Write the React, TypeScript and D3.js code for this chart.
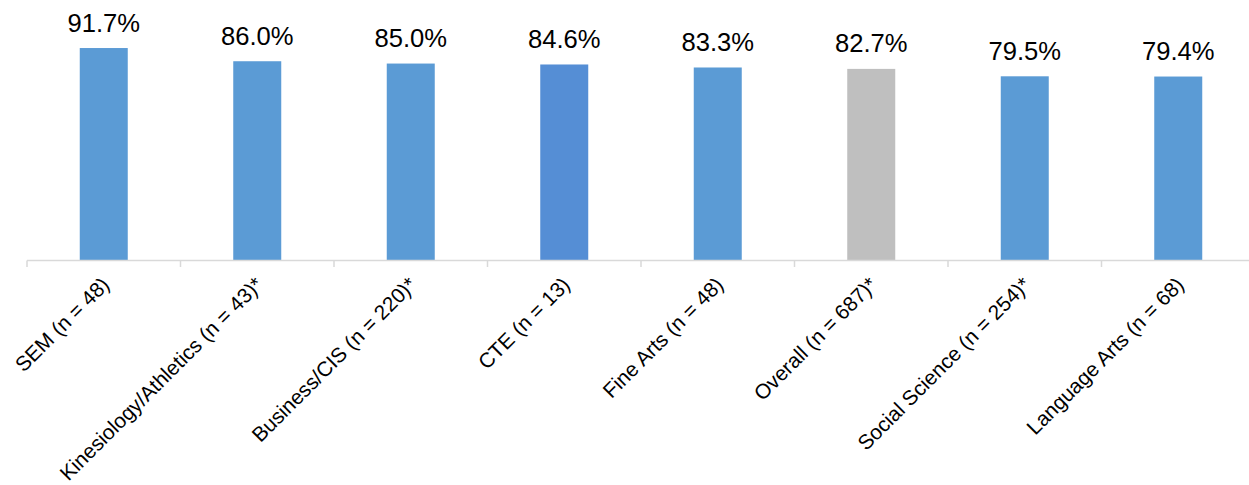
import React from "react";
import * as d3 from "d3";

const categories = [
  "SEM (n = 48)",
  "Kinesiology/Athletics (n = 43)*",
  "Business/CIS (n = 220)*",
  "CTE (n = 13)",
  "Fine Arts (n = 48)",
  "Overall (n = 687)*",
  "Social Science (n = 254)*",
  "Language Arts (n = 68)",
];
const values = [91.7, 86.0, 85.0, 84.6, 83.3, 82.7, 79.5, 79.4];
const barColors = ["#5B9BD5", "#5B9BD5", "#5B9BD5", "#558ED5", "#5B9BD5", "#BFBFBF", "#5B9BD5", "#5B9BD5"];

const W = 1249;
const H = 485;
const FONT = "'Liberation Sans', Arial, sans-serif";

export default function App() {
  const x = d3.scaleBand<string>().domain(categories).range([27, 27 + 153.5 * 8]).paddingInner(0).paddingOuter(0);
  const y = d3.scaleLinear().domain([0, 100]).range([260.5, 28.8]);
  const bw = 48;
  const bounds = d3.range(categories.length + 1).map((i) => 27 + i * x.step());

  return (
    <svg width={W} height={H} style={{ position: "absolute", left: 0, top: 0, background: "#fff" }} fontFamily={FONT}>
      {categories.map((c, i) => {
        const cx = (x(c) as number) + x.bandwidth() / 2;
        return (
          <g key={c}>
            <rect x={cx - bw / 2} y={y(values[i])} width={bw} height={y(0) - y(values[i])} fill={barColors[i]} />
            <text x={cx} y={y(values[i]) - 16.5} textAnchor="middle" fontSize={25.6} fill="#000">
              {values[i].toFixed(1) + "%"}
            </text>
            <text
              transform={`translate(${cx + 7},${286}) rotate(-45)`}
              textAnchor="end"
              fontSize={20.8}
              fill="#000"
            >
              {c}
            </text>
          </g>
        );
      })}
      <line x1={27} x2={W} y1={260.5} y2={260.5} stroke="#D9D9D9" strokeWidth={1.5} />
      {bounds.map((bx, i) => (
        <line key={i} x1={bx} x2={bx} y1={260.5} y2={267} stroke="#D9D9D9" strokeWidth={1.5} />
      ))}
    </svg>
  );
}
